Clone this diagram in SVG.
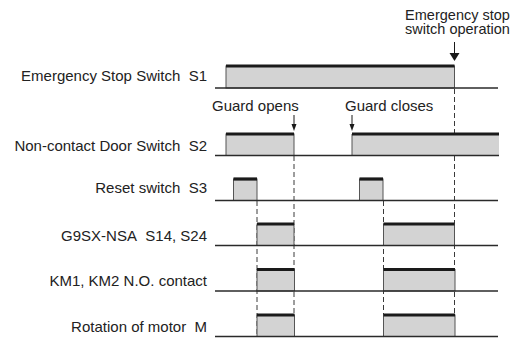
<svg xmlns="http://www.w3.org/2000/svg" width="528" height="338" viewBox="0 0 528 338">
<defs>
<style>
text{font-family:"Liberation Sans",Arial,sans-serif;font-size:15px;fill:#222}
.lbl{text-anchor:end}
.note{text-anchor:middle;font-size:14.5px}
.base{stroke:#2a2a2a;stroke-width:1.4;fill:none}
.pulse{fill:#d3d3d3;stroke:#555;stroke-width:1}
.top{stroke:#1a1a1a;stroke-width:3.2;fill:none}
.dash{stroke:#3a3a3a;stroke-width:1;stroke-dasharray:5 3;fill:none}
.arr{stroke:#1a1a1a;stroke-width:1;fill:none}
</style>
</defs>
<rect width="528" height="338" fill="#fff"/>

<g id="connectors">
<line class="dash" x1="454.5" y1="89" x2="454.5" y2="133"/>
<line class="dash" x1="454.5" y1="156" x2="454.5" y2="336"/>
<line class="dash" x1="294" y1="156" x2="294" y2="336"/>
<line class="dash" x1="257" y1="201" x2="257" y2="336"/>
<line class="dash" x1="383.5" y1="201" x2="383.5" y2="336"/>
<line class="arr" x1="454.5" y1="42" x2="454.5" y2="54"/>
<path d="M449.5,53 L459.5,53 L454.5,61 Z" fill="#1a1a1a"/>
<line class="arr" x1="294" y1="115" x2="294" y2="125"/>
<path d="M291.5,124 L296.5,124 L294,131 Z" fill="#1a1a1a"/>
<line class="arr" x1="352" y1="115" x2="352" y2="125"/>
<path d="M349.5,124 L354.5,124 L352,131 Z" fill="#1a1a1a"/>
</g>

<g id="note-estop">
<text class="note" x="457.5" y="19.5">Emergency stop</text>
<text class="note" x="457.5" y="34">switch operation</text>
</g>
<g id="note-guard-opens"><text x="212" y="110.5">Guard opens</text></g>
<g id="note-guard-closes"><text x="345" y="110.5">Guard closes</text></g>

<g id="s1">
<text class="lbl" x="207" y="81">Emergency Stop Switch&#160; S1</text>
<rect class="pulse" x="226" y="66" width="228.5" height="22"/>
<line class="top" x1="226" y1="66" x2="454.5" y2="66"/>
<line class="base" x1="215" y1="88" x2="498" y2="88"/>
</g>

<g id="s2">
<text class="lbl" x="207" y="151">Non-contact Door Switch&#160; S2</text>
<rect class="pulse" x="226" y="134" width="68" height="21.5"/>
<line class="top" x1="226" y1="134" x2="294" y2="134"/>
<rect x="352" y="134" width="147" height="21.5" fill="#d3d3d3"/>
<line x1="352" y1="134" x2="352" y2="155.5" stroke="#555" stroke-width="1"/>
<line class="top" x1="352" y1="134" x2="499" y2="134"/>
<line class="base" x1="215" y1="155.5" x2="499" y2="155.5"/>
</g>

<g id="s3">
<text class="lbl" x="207" y="192.5">Reset switch&#160; S3</text>
<rect class="pulse" x="233.5" y="179" width="23.5" height="21.5"/>
<line class="top" x1="233.5" y1="179" x2="257" y2="179"/>
<rect class="pulse" x="359.5" y="179" width="23.5" height="21.5"/>
<line class="top" x1="359.5" y1="179" x2="383" y2="179"/>
<line class="base" x1="215" y1="200.5" x2="498" y2="200.5"/>
</g>

<g id="g9sx">
<text class="lbl" x="207" y="241">G9SX-NSA&#160; S14, S24</text>
<rect class="pulse" x="257" y="224" width="37" height="21.5"/>
<line class="top" x1="257" y1="224" x2="294" y2="224"/>
<rect class="pulse" x="383.5" y="224" width="71" height="21.5"/>
<line class="top" x1="383.5" y1="224" x2="454.5" y2="224"/>
<line class="base" x1="215" y1="245.5" x2="498" y2="245.5"/>
</g>

<g id="km">
<text class="lbl" x="207" y="286">KM1, KM2 N.O. contact</text>
<rect class="pulse" x="257" y="269.5" width="37.5" height="21.5"/>
<line class="top" x1="257" y1="269.5" x2="294.5" y2="269.5"/>
<rect class="pulse" x="383.5" y="269.5" width="71.5" height="21.5"/>
<line class="top" x1="383.5" y1="269.5" x2="455" y2="269.5"/>
<line class="base" x1="215" y1="291" x2="498" y2="291"/>
</g>

<g id="motor">
<text class="lbl" x="207" y="331.5">Rotation of motor&#160; M</text>
<rect class="pulse" x="257" y="315" width="37.5" height="21.5"/>
<line class="top" x1="257" y1="315" x2="294.5" y2="315"/>
<rect class="pulse" x="383.5" y="315" width="71.5" height="21.5"/>
<line class="top" x1="383.5" y1="315" x2="455" y2="315"/>
<line class="base" x1="215" y1="336.5" x2="498" y2="336.5"/>
</g>
</svg>
